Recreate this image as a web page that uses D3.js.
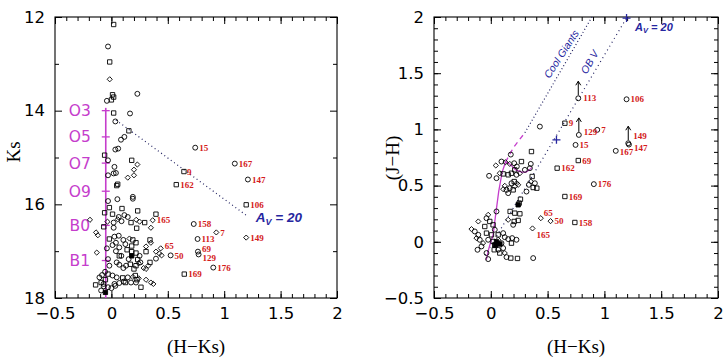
<!DOCTYPE html>
<html><head><meta charset="utf-8">
<script src="https://cdn.jsdelivr.net/npm/d3@7"></script>
<style>body{margin:0;background:#fff}svg{display:block}</style>
</head><body><svg id="c" width="725" height="364"></svg>
<script>
// ---------------- DATA ----------------
const hkTicks = [-0.5, 0, 0.5, 1, 1.5, 2];
const ksTicks = [12, 14, 16, 18];
const ksMinor = [13, 15, 17];
const jhTicks = [-0.5, 0, 0.5, 1, 1.5, 2];

// Left panel: [H-Ks, Ks, shape]
const leftPoints = [
[0.02,12.16,"s"],[-0.03,12.63,"c"],[-0.015,12.96,"s"],[-0.015,13.33,"d"],[0.01,13.66,"s"],[0.02,13.71,"s"],[0.0,13.77,"s"],[-0.04,13.79,"c"],[0.23,13.64,"c"],
[0.02,14.05,"s"],[0.165,14.06,"c"],[0.035,14.23,"c"],[0.155,14.43,"s"],[0.085,14.62,"c"],[0.115,14.56,"c"],[0.035,14.83,"c"],[0.06,14.81,"c"],
[-0.06,14.95,"s"],[0.18,15.06,"s"],[0.23,15.15,"d"],[-0.03,15.06,"c"],[0.027,15.2,"c"],[0.2,15.26,"d"],[0.02,15.34,"c"],[0.04,15.33,"c"],[0.145,15.43,"d"],[0.2,15.38,"d"],[-0.03,15.38,"c"],[0.056,15.57,"s"],[0.047,15.6,"s"],
[-0.03,15.93,"c"],[0.053,15.89,"c"],[0.19,15.84,"c"],[0.19,15.88,"c"],
[-0.06,16.18,"s"],[-0.018,16.07,"s"],[0.094,16.09,"s"],[0.233,16.14,"s"],[0.01,16.21,"s"],[0.065,16.27,"c"],[0.115,16.23,"c"],[0.145,16.27,"c"],[0.22,16.33,"d"],[-0.035,16.37,"d"],[0.02,16.39,"c"],[0.056,16.32,"d"],[0.09,16.36,"c"],[0.174,16.39,"s"],[0.25,16.37,"d"],[0.295,16.39,"s"],[0.395,16.21,"s"],[0.35,16.5,"d"],[0.224,16.51,"s"],[0.02,16.5,"c"],[-0.068,16.48,"s"],[-0.19,16.33,"d"],[-0.136,16.6,"d"],[-0.12,16.66,"d"],
[-0.018,16.74,"s"],[0.027,16.69,"c"],[0.065,16.67,"c"],[0.106,16.76,"c"],[0.16,16.73,"d"],[0.19,16.76,"s"],[0.218,16.82,"s"],[0.18,16.89,"s"],[0.124,16.85,"c"],[0.04,16.82,"c"],[0.01,16.87,"c"],[0.07,16.92,"c"],[0.139,16.97,"s"],[0.18,17.01,"s"],[0.218,17.04,"s"],[0.18,17.1,"f"],[0.153,17.17,"c"],[0.088,17.1,"c"],[0.04,17.0,"c"],[-0.04,16.94,"c"],[-0.03,17.17,"c"],[0.07,17.1,"s"],[0.307,16.9,"d"],[0.342,16.76,"s"],[0.35,16.82,"d"],[0.395,17.01,"d"],[0.425,17.05,"d"],[0.445,17.09,"d"],[0.395,17.16,"c"],[0.307,17.01,"s"],[0.233,17.18,"s"],[0.25,17.1,"c"],[-0.13,17.03,"d"],
[0.047,17.24,"c"],[0.07,17.29,"c"],[0.168,17.28,"s"],[0.218,17.31,"s"],[0.242,17.26,"d"],[0.257,17.24,"c"],[0.13,17.31,"c"],[0.106,17.36,"c"],[0.342,17.24,"s"],[0.327,17.31,"d"],[0.307,17.38,"d"],[0.286,17.36,"d"],[0.2,17.38,"s"],[-0.018,17.31,"c"],
[-0.03,17.49,"s"],[-0.056,17.44,"c"],[-0.083,17.51,"c"],[-0.106,17.56,"c"],[0.01,17.52,"c"],[0.047,17.56,"c"],[0.1,17.57,"s"],[0.145,17.56,"c"],[0.19,17.55,"d"],[0.212,17.52,"s"],[0.227,17.61,"s"],[0.242,17.58,"d"],[0.174,17.67,"c"],[0.124,17.67,"s"],[0.07,17.68,"c"],[0.027,17.7,"c"],[0.11,17.65,"c"],[0.218,17.67,"c"],[0.262,17.77,"s"],[-0.03,17.77,"c"],[0.035,17.74,"c"],[-0.053,17.61,"s"],[-0.07,17.7,"c"],[-0.091,17.67,"s"],[-0.14,17.72,"s"],[-0.068,17.75,"c"],[0.0,17.79,"c"],[-0.091,17.84,"c"],[-0.053,17.88,"f"],[0.35,17.67,"d"],[0.372,17.7,"d"],[0.307,17.61,"d"]
];
// Left labelled stars: [H-Ks, Ks, shape, id]
const leftLabelled = [
[0.743,14.79,"c","15"],[1.094,15.13,"c","167"],[1.21,15.47,"c","147"],[0.643,15.3,"s","9"],[0.575,15.58,"s","162"],[1.195,16.01,"s","106"],[0.366,16.34,"d","165"],[0.73,16.42,"c","158"],[0.93,16.6,"d","7"],[0.764,16.74,"c","113"],[1.195,16.71,"d","149"],[0.437,16.94,"d","65"],[0.525,17.09,"c","50"],[0.767,17.01,"c","69"],[0.773,17.07,"c","129"],[0.903,17.35,"c","176"],[0.646,17.49,"s","169"]
];
// Spectral types along the main sequence (left panel)
const spTypes = ["O3","O5","O7","O9","B0","B1"];
const spKs = [14.0, 14.56, 15.12, 15.72, 16.45, 17.2];
const msHK = -0.05;
const msKsRange = [13.94, 18.0];
// Reddening vector left panel (A_V = 20)
const leftRedden = [[0.04,14.2],[1.21,16.26]];

// Right panel: [H-Ks, J-H, shape]
const rightPoints = [
[0.176,0.776,"c"],[0.358,0.803,"s"],[0.044,0.679,"d"],[0.094,0.714,"c"],[0.129,0.708,"d"],[0.167,0.693,"d"],[0.206,0.699,"c"],[0.229,0.67,"c"],[0.27,0.714,"s"],[0.352,0.693,"c"],
[-0.015,0.587,"c"],[0.079,0.61,"d"],[0.05,0.566,"c"],[0.109,0.604,"s"],[0.153,0.596,"s"],[0.182,0.61,"s"],[0.211,0.64,"s"],[0.226,0.596,"c"],[0.256,0.61,"d"],[0.30,0.64,"c"],[0.344,0.655,"c"],[0.364,0.581,"s"],[0.352,0.536,"d"],[0.388,0.521,"c"],[0.405,0.477,"s"],[0.373,0.483,"s"],[0.335,0.507,"c"],[0.314,0.447,"c"],
[0.206,0.536,"s"],[0.182,0.521,"c"],[0.229,0.521,"d"],[0.241,0.507,"d"],[0.211,0.492,"d"],[0.197,0.462,"s"],[0.167,0.477,"c"],[0.153,0.433,"c"],[0.123,0.498,"d"],[0.138,0.462,"c"],[0.109,0.468,"d"],
[0.261,0.379,"s"],[0.25,0.344,"s"],[0.241,0.329,"f"],[0.211,0.255,"s"],[0.256,0.249,"s"],[0.17,0.27,"s"],[0.153,0.196,"d"],[0.206,0.181,"s"],[0.241,0.19,"s"],[0.197,0.151,"c"],
[0.05,0.27,"c"],[-0.023,0.24,"d"],[-0.038,0.21,"c"],[-0.11,0.181,"d"],[-0.009,0.181,"s"],[0.02,0.151,"s"],[0.035,0.107,"c"],[-0.053,0.136,"s"],[-0.17,0.113,"d"],[-0.141,0.092,"c"],[-0.11,0.062,"c"],[-0.038,0.077,"s"],[0.006,0.062,"s"],[0.065,0.062,"s"],[0.109,0.077,"c"],[0.123,0.041,"c"],[0.065,0.018,"d"],[0.094,-0.012,"c"],[0.035,-0.027,"s"],[0.02,0.003,"s"],[-0.023,0.018,"c"],[-0.068,-0.012,"d"],[-0.082,-0.041,"c"],[-0.097,0.018,"c"],[-0.126,0.033,"d"],[0.153,0.024,"c"],[0.188,0.033,"c"],[0.226,0.018,"c"],[0.182,-0.012,"s"],
[0.109,-0.056,"c"],[0.123,-0.1,"d"],[0.138,-0.136,"c"],[0.176,-0.145,"s"],[0.235,-0.148,"s"],[0.373,-0.145,"c"],[-0.023,-0.154,"c"],[-0.117,-0.071,"c"],[-0.038,-0.1,"c"],[0.065,-0.071,"c"],[0.079,-0.1,"s"],[0.03,-0.071,"s"],
[0.05,0.0,"f"],[0.08,-0.02,"f"],[0.04,-0.03,"f"],[0.432,1.025,"c"]
];
const rightLabelled = [
[0.77,1.277,"c","113"],[1.195,1.268,"c","106"],[0.652,1.055,"s","9"],[0.775,0.951,"c","129"],[0.937,0.996,"c","7"],[1.21,0.877,"c","149"],[1.216,0.865,"c","147"],[1.10,0.809,"c","167"],[0.746,0.862,"c","15"],[0.77,0.723,"s","69"],[0.584,0.655,"s","162"],[0.907,0.513,"c","176"],[0.652,0.403,"s","169"],[0.74,0.172,"s","158"],[0.44,0.21,"d","65"],[0.526,0.184,"d","50"],[0.367,0.119,"d","165"]
];
const arrowIds = ["113","129","149"];
// Intrinsic colour sequences
const dwarfSeq = [[-0.04,-0.16],[-0.02,-0.07],[0.0,0.0],[0.02,0.06],[0.04,0.22],[0.07,0.45],[0.1,0.62],[0.13,0.71],[0.17,0.69],[0.22,0.64],[0.27,0.62],[0.31,0.62],[0.34,0.64],[0.36,0.66]];
const giantSeq = [[0.13,0.71],[0.2,0.84],[0.3,0.97]];
const coolGiantsLine = [[0.3,0.97],[0.89,2.0]];
const obvLine = [[-0.05,-0.12],[1.2,2.0]];
const avMarks = [[0.578,0.907],[1.195,1.99]];

// ---------------- DRAWING ----------------
const svg = d3.select("#c");
const TICKFONT = "DejaVu Sans";
const BLUE = "#2626a0", RED = "#d41a1a", MAG = "#c53dcc";

const xL = d3.scaleLinear([-0.5,2],[55,337]);
const yL = d3.scaleLinear([12,18],[17,298]);
const xR = d3.scaleLinear([-0.5,2],[434,718]);
const yR = d3.scaleLinear([-0.5,2],[298,17]);

const fmt = d => (d < 0 ? "\u2212" : "") + Math.abs(d);

function frame(x, y, yMaj, yMin) {
  const [xa, xb] = x.range();
  const yr = y.range(), ya = Math.min(...yr), yb = Math.max(...yr);
  const xMin = d3.range(-0.5, 2.0001, 0.1).map(v => +v.toFixed(2));
  const g = svg.append("g");
  const add = (axis, tx, ty) => {
    const a = g.append("g").attr("transform", `translate(${tx},${ty})`).call(axis);
    a.select(".domain").remove();
    a.selectAll("line").attr("stroke", "#000").attr("stroke-width", 1);
    a.selectAll("text").attr("font-family", TICKFONT).attr("font-size", 16.5).attr("fill", "#000");
    return a;
  };
  add(d3.axisBottom(x).tickValues(hkTicks).tickSize(-7).tickPadding(9).tickFormat(fmt), 0, yb);
  add(d3.axisBottom(x).tickValues(xMin).tickSize(-4).tickFormat(""), 0, yb);
  add(d3.axisTop(x).tickValues(hkTicks).tickSize(-7).tickFormat(""), 0, ya);
  add(d3.axisTop(x).tickValues(xMin).tickSize(-4).tickFormat(""), 0, ya);
  add(d3.axisLeft(y).tickValues(yMaj).tickSize(-7).tickPadding(10).tickFormat(fmt), xa, 0);
  add(d3.axisLeft(y).tickValues(yMin).tickSize(-4).tickFormat(""), xa, 0);
  add(d3.axisRight(y).tickValues(yMaj).tickSize(-7).tickFormat(""), xb, 0);
  add(d3.axisRight(y).tickValues(yMin).tickSize(-4).tickFormat(""), xb, 0);
  g.append("rect").attr("x", xa).attr("y", ya).attr("width", xb - xa).attr("height", yb - ya)
    .attr("fill", "none").attr("stroke", "#000").attr("stroke-width", 1.1);
}

const sym = {
  c: d3.symbol(d3.symbolCircle, 19),
  s: d3.symbol(d3.symbolSquare, 19),
  d: d3.symbol(d3.symbolDiamond2, 17),
  f: d3.symbol(d3.symbolSquare, 19)
};
function markers(g, data, x, y) {
  g.selectAll(null).data(data).join("path")
    .attr("transform", d => `translate(${x(d[0])},${y(d[1])})`)
    .attr("d", d => sym[d[2]]())
    .attr("fill", d => d[2] === "f" ? "#000" : "none")
    .attr("stroke", "#000").attr("stroke-width", 0.9);
}
function labels(g, data, x, y, nudge) {
  g.selectAll(null).data(data).join("text")
    .attr("x", d => x(d[0]) + 4 + ((nudge[d[3]] || [0,0])[0]))
    .attr("y", d => y(d[1]) + ((nudge[d[3]] || [0,0])[1]))
    .attr("dy", "0.35em")
    .attr("font-family", "Liberation Serif").attr("font-weight", "bold").attr("font-size", 9)
    .attr("fill", RED).text(d => d[3]);
}

// ---- Left panel ----
frame(xL, yL, ksTicks, ksMinor);
const gL = svg.append("g");
gL.append("line").attr("x1", xL(msHK)).attr("x2", xL(msHK)).attr("y1", yL(msKsRange[0])).attr("y2", yL(msKsRange[1]))
  .attr("stroke", MAG).attr("stroke-width", 1.6);
spKs.forEach((k, i) => {
  gL.append("line").attr("x1", xL(msHK) - 4).attr("x2", xL(msHK) + 4).attr("y1", yL(k)).attr("y2", yL(k))
    .attr("stroke", MAG).attr("stroke-width", 1.3);
  gL.append("text").attr("x", xL(-0.28)).attr("y", yL(k)).attr("dy", "0.36em").attr("text-anchor", "middle")
    .attr("font-family", TICKFONT).attr("font-size", 15.5).attr("fill", MAG).text(spTypes[i]);
});
gL.append("path").attr("d", d3.line().x(d => xL(d[0])).y(d => yL(d[1]))(leftRedden))
  .attr("fill", "none").attr("stroke", "#202060").attr("stroke-width", 1.2).attr("stroke-dasharray", "1,3");
const avL = gL.append("text").attr("x", xL(1.28)).attr("y", yL(16.28)).attr("dy", "0.35em")
  .attr("font-family", "Liberation Sans").attr("font-style", "italic").attr("font-weight", "bold")
  .attr("font-size", 13.5).attr("fill", BLUE);
avL.append("tspan").text("A");
avL.append("tspan").attr("font-size", 9).attr("dy", "3").text("V");
avL.append("tspan").attr("dy", "-3").text(" = 20");
markers(gL, leftPoints, xL, yL);
markers(gL, leftLabelled, xL, yL);
labels(gL, leftLabelled, xL, yL, {"69":[0,-3], "129":[0,3], "65":[0,-3], "9":[-1,0]});

// ---- Right panel ----
frame(xR, yR, jhTicks, d3.range(-0.5, 2.0001, 0.1).map(v => +v.toFixed(2)));
const gR = svg.append("g");
const lineR = d3.line().x(d => xR(d[0])).y(d => yR(d[1]));
gR.append("path").attr("d", lineR(obvLine)).attr("fill", "none").attr("stroke", "#202060")
  .attr("stroke-width", 1.2).attr("stroke-dasharray", "1,3.5");
gR.append("path").attr("d", lineR(coolGiantsLine)).attr("fill", "none").attr("stroke", "#202060")
  .attr("stroke-width", 1.2).attr("stroke-dasharray", "1,2.5");
gR.append("path").attr("d", lineR(dwarfSeq)).attr("fill", "none").attr("stroke", MAG).attr("stroke-width", 1.3);
gR.append("path").attr("d", lineR(giantSeq)).attr("fill", "none").attr("stroke", MAG).attr("stroke-width", 1.3)
  .attr("stroke-dasharray", "5,4");
avMarks.forEach(p => {
  const cx = xR(p[0]), cy = yR(p[1]);
  gR.append("path").attr("d", `M${cx-4},${cy}H${cx+4}M${cx},${cy-4}V${cy+4}`).attr("stroke", BLUE).attr("stroke-width", 1.3);
});
gR.append("text").attr("transform", `translate(${xR(0.62)},${yR(1.67)}) rotate(-57)`)
  .attr("text-anchor", "middle").attr("dy", "0.35em")
  .attr("font-family", "Liberation Sans").attr("font-style", "italic").attr("font-size", 10.5).attr("fill", BLUE).text("Cool Giants");
gR.append("text").attr("transform", `translate(${xR(0.87)},${yR(1.6)}) rotate(-60)`)
  .attr("text-anchor", "middle").attr("dy", "0.35em")
  .attr("font-family", "Liberation Sans").attr("font-style", "italic").attr("font-size", 10.5).attr("fill", BLUE).text("OB V");
const avR = gR.append("text").attr("x", xR(1.27)).attr("y", yR(1.91)).attr("dy", "0.35em")
  .attr("font-family", "Liberation Sans").attr("font-style", "italic").attr("font-weight", "bold")
  .attr("font-size", 11).attr("fill", BLUE);
avR.append("tspan").text("A");
avR.append("tspan").attr("font-size", 7.5).attr("dy", "2.5").text("V");
avR.append("tspan").attr("dy", "-2.5").text(" = 20");
rightLabelled.filter(d => arrowIds.includes(d[3])).forEach(d => {
  const cx = xR(d[0]), cy = yR(d[1]);
  gR.append("path").attr("d", `M${cx},${cy-3}V${cy-17}M${cx-2.5},${cy-13}L${cx},${cy-17}L${cx+2.5},${cy-13}`)
    .attr("fill", "none").attr("stroke", "#000").attr("stroke-width", 1);
});
markers(gR, rightPoints, xR, yR);
markers(gR, rightLabelled, xR, yR);
labels(gR, rightLabelled, xR, yR, {"149":[1,-7], "147":[1,3], "165":[0,6], "65":[-1,-5], "167":[0,1], "113":[1,0], "129":[1,-3]});

// ---- Axis titles ----
const title = (t, x, y, rot) => svg.append("text")
  .attr("transform", `translate(${x},${y})${rot ? " rotate(-90)" : ""}`)
  .attr("text-anchor", "middle").attr("font-family", "Liberation Serif").attr("font-size", 19)
  .attr("fill", "#000").text(t);
title("(H\u2212Ks)", 196, 353, false);
title("(H\u2212Ks)", 576, 353, false);
title("Ks", 20, 152, true);
title("(J\u2212H)", 399, 158, true);
</script></body></html>
